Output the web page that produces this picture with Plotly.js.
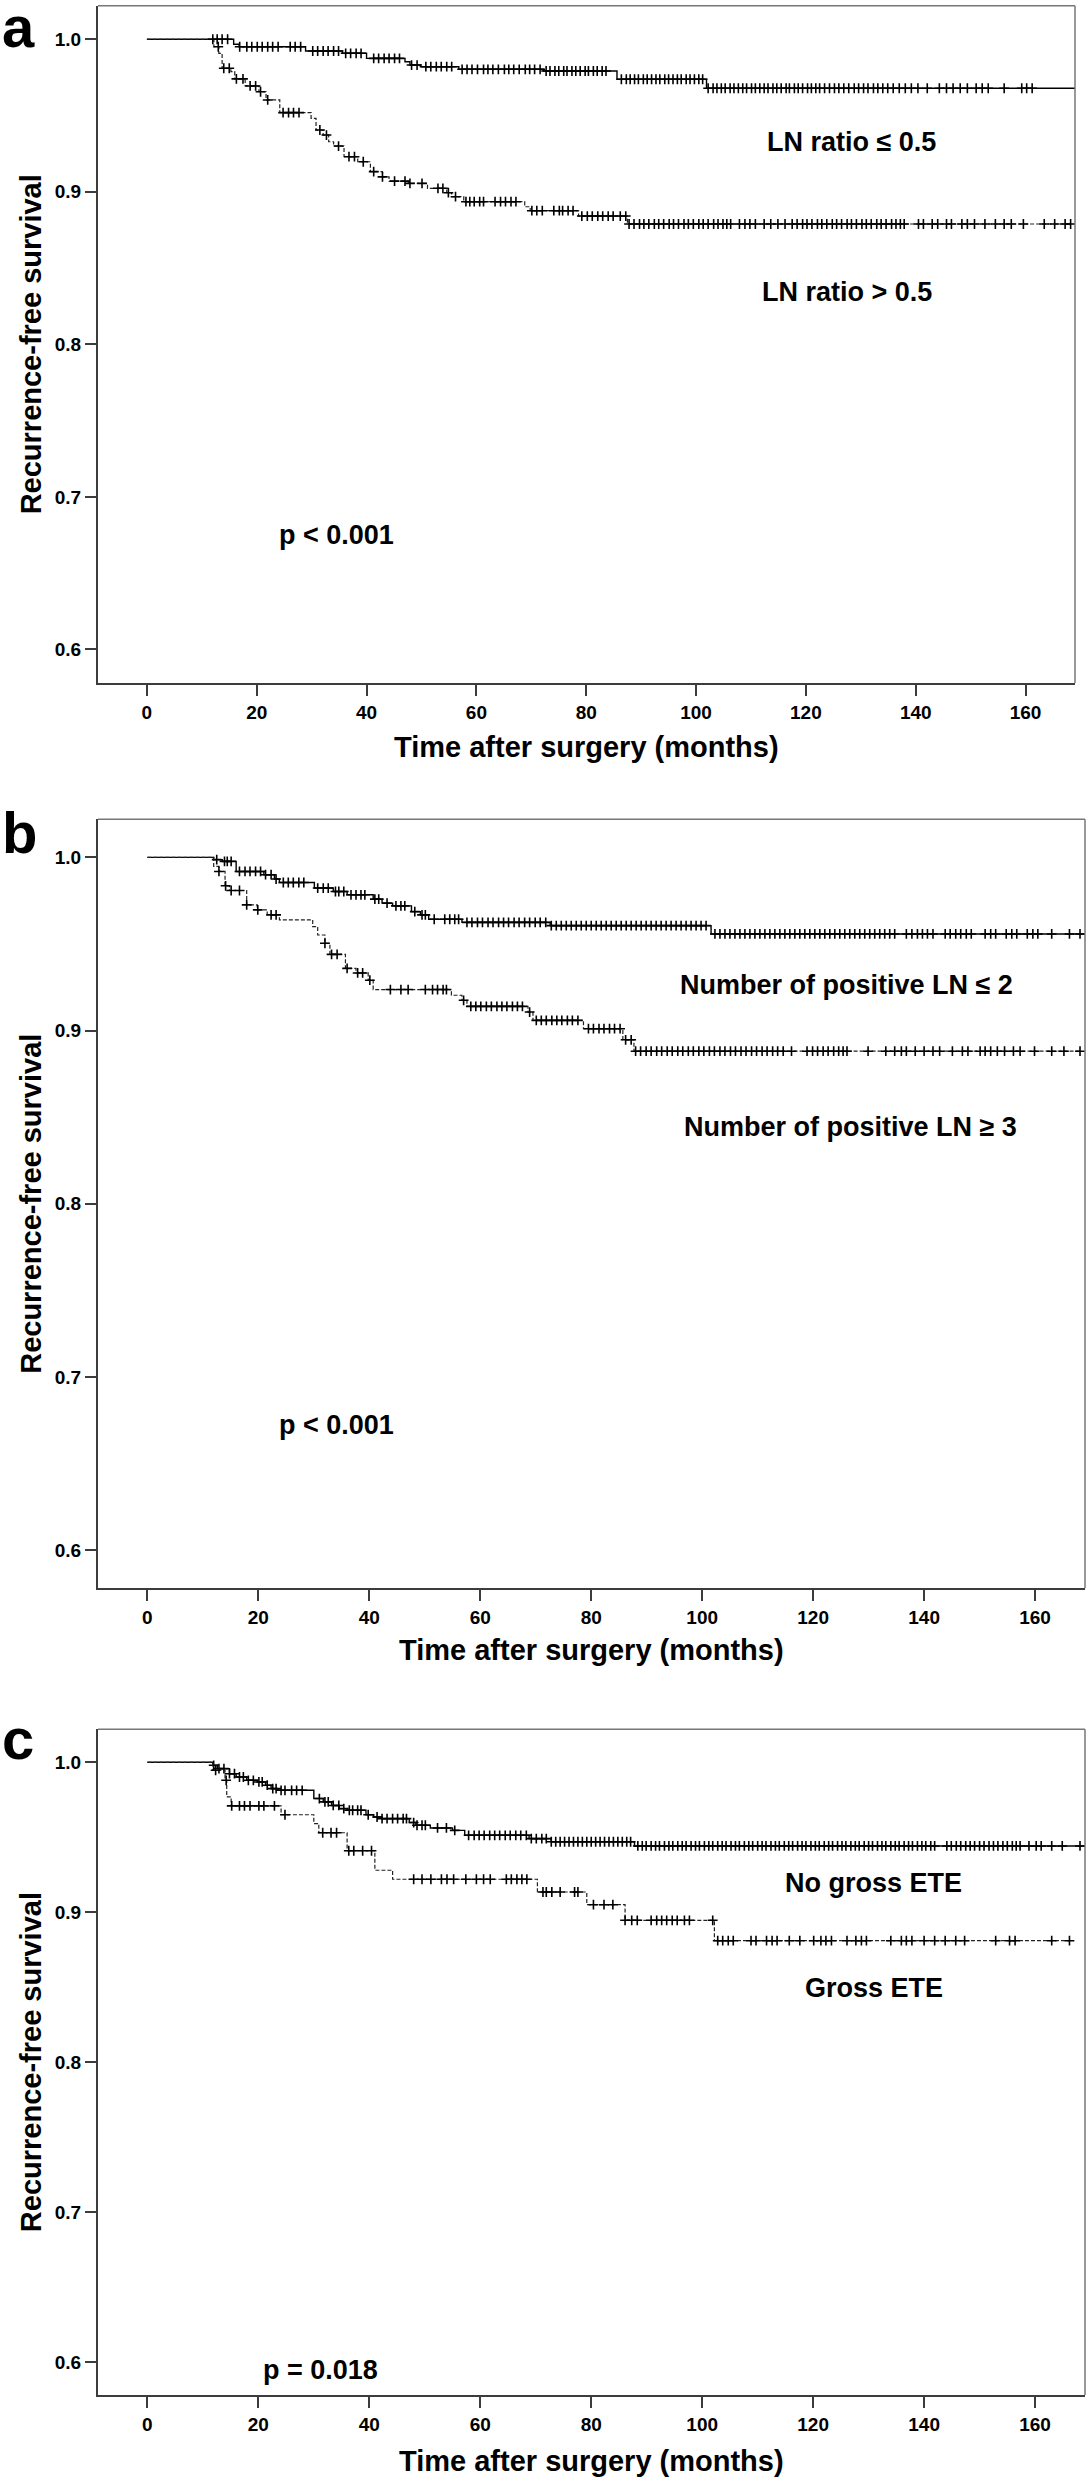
<!DOCTYPE html>
<html><head><meta charset="utf-8">
<script src="https://cdn.plot.ly/plotly-3.0.1.min.js"></script>
<style>html,body{margin:0;padding:0;background:#fff}#chart{width:1089px;height:2481px}</style>
</head><body><div id="chart"></div>
<script>
// ---------- Panel a : LN ratio ----------
const ratioLowTime = [0,15.8,16.8,28.9,35.6,40.0,47.0,47.9,49.8,56.8,72.2,85.6,101.9,169];
const ratioLowSurv = [1,0.9967,0.9951,0.9923,0.9908,0.9875,0.9853,0.9831,0.982,0.9803,0.9792,0.9738,0.9679,0.9679];
const ratioLowCens = [12.8,13.7,14.7,16.9,18.2,19.1,20.1,21.0,22.0,22.9,23.9,26.1,27.0,28.0,30.2,31.1,32.1,33.0,34.0,34.9,36.2,37.1,38.1,39.0,41.3,42.2,43.2,44.1,45.1,46.0,48.2,49.2,50.8,51.7,52.7,53.6,54.6,55.5,57.4,58.3,59.2,60.2,61.3,62.1,63.0,64.0,65.1,65.9,66.8,67.8,68.9,69.7,70.6,71.6,72.7,73.4,74.3,75.0,75.9,76.5,77.4,78.1,78.9,79.8,80.4,81.3,82.0,82.9,83.6,86.4,87.3,88.0,88.8,89.5,90.4,91.1,91.9,92.7,93.4,94.3,95.0,95.8,96.6,97.3,98.2,98.9,99.7,100.5,101.2,102.2,103.1,103.8,104.6,105.3,106.2,106.9,107.7,108.5,109.2,110.1,110.8,111.6,112.4,113.1,114.0,114.7,115.5,116.4,117.0,117.9,118.6,119.4,120.3,121.0,121.8,122.5,123.4,124.3,125.2,126.0,126.9,127.8,128.8,129.6,130.5,131.3,132.3,133.1,134.0,134.9,135.9,137.0,138.1,139.2,140.4,142.1,144.3,145.6,146.8,148.1,149.4,151.0,152.1,153.2,156.1,159.3,160.2,161.2];
const ratioHighTime = [0,12.2,13.1,13.7,15.3,16.0,17.9,20.4,21.7,24.2,29.9,30.8,32.1,33.1,34.0,35.9,38.4,40.7,42.9,44.1,47.6,51.1,54.6,55.5,57.7,68.8,69.8,78.6,87.5,168.2];
const ratioHighSurv = [1,0.9951,0.9908,0.981,0.9788,0.974,0.9694,0.9656,0.9602,0.9519,0.9482,0.9405,0.9372,0.9328,0.930,0.923,0.9197,0.9132,0.9098,0.907,0.9055,0.9023,0.8994,0.8968,0.8935,0.8902,0.8876,0.8841,0.8789,0.8789];
const ratioHighCens = [12.0,13.0,14.0,15.0,16.3,17.5,18.8,19.8,20.7,22.0,24.8,25.8,26.7,27.7,31.5,32.7,34.9,36.8,37.8,39.4,41.3,42.9,45.1,47.0,47.9,50.1,53.0,53.9,54.9,56.2,58.1,58.8,59.6,60.6,61.3,63.4,64.4,65.3,66.3,67.2,70.1,71.0,72.0,74.1,75.1,75.7,76.7,77.6,79.2,80.2,81.1,82.1,83.0,84.0,84.9,86.2,87.2,87.8,88.7,89.7,90.5,91.4,92.4,93.2,94.1,95.1,95.9,96.8,97.8,98.6,99.5,100.5,101.3,102.2,103.2,104.0,104.9,105.6,106.3,107.9,108.9,109.8,110.8,112.4,113.6,114.9,116.2,117.5,118.4,119.4,120.2,121.1,122.1,122.9,123.8,124.8,125.6,126.5,127.5,128.3,129.2,130.2,131.0,131.9,132.9,133.7,134.6,135.6,136.4,137.2,137.9,140.5,141.4,143.0,144.0,145.6,146.5,148.4,149.4,150.7,152.6,154.5,156.1,157.4,159.6,163.4,165.3,167.2,168.2];

// ---------- Panel b : number of positive LN ----------
const fewLNTime = [0,11.95,13.5,16.0,21.0,22.9,23.8,30.1,33.5,36.0,40.7,42.3,44.2,47.6,49.2,50.7,56.7,72.6,101.6,169];
const fewLNSurv = [1,0.9987,0.9977,0.9919,0.99,0.9875,0.9855,0.9823,0.9803,0.9784,0.9759,0.9736,0.972,0.9687,0.9668,0.9643,0.9625,0.9606,0.9558,0.9558];
const fewLNCens = [12.5,13.9,14.4,15.1,16.6,17.6,18.5,19.5,20.4,21.3,22.3,23.2,24.5,25.4,26.3,27.3,28.2,30.7,31.7,32.6,33.9,34.5,35.4,36.7,37.6,38.5,39.2,41.0,41.7,43.2,44.8,45.7,46.4,48.2,49.5,50.1,51.7,53.6,54.5,55.4,56.1,57.6,58.5,59.5,60.4,61.4,62.3,63.3,64.2,65.1,66.1,67.0,68.0,68.9,69.9,70.8,71.8,72.8,73.7,74.6,75.5,76.4,77.3,78.2,79.1,80.0,80.9,81.8,82.7,83.6,84.5,85.4,86.3,87.2,88.1,89.0,89.9,90.8,91.7,92.6,93.5,94.4,95.3,96.2,97.1,98.0,98.9,99.8,100.7,102.3,103.2,104.1,105.0,105.9,106.8,107.7,108.6,109.5,110.4,111.3,112.2,113.1,114.0,114.9,115.8,116.7,117.6,118.5,119.4,120.3,121.2,122.1,123.0,123.9,124.8,125.7,126.6,127.5,128.4,129.3,130.2,131.1,132.0,132.9,133.8,134.7,136.8,137.8,138.8,139.7,140.6,141.6,143.8,144.7,145.7,146.6,147.6,148.5,151.0,152.0,152.9,154.8,155.8,156.7,158.6,159.6,160.5,163.0,166.2,168.1];
const manyLNTime = [0,11.95,12.9,14.0,14.8,17.9,19.8,21.6,23.8,29.8,30.7,32.0,32.9,35.7,37.6,39.8,40.7,54.8,56.7,57.6,68.6,69.5,78.6,85.7,87.7,168.1];
const manyLNSurv = [1,0.9948,0.9919,0.9836,0.9809,0.9726,0.9697,0.9668,0.9639,0.96,0.9552,0.9504,0.944,0.9359,0.9333,0.9291,0.9237,0.9204,0.9175,0.914,0.9107,0.9059,0.9011,0.8947,0.8881,0.8881];
const manyLNCens = [12.9,14.1,15.1,16.6,17.9,19.9,22.3,23.2,32.0,33.2,34.2,36.0,37.9,38.8,40.1,43.8,45.7,47.0,50.1,51.4,52.3,53.3,53.9,57.0,58.3,59.2,60.1,61.1,62.0,63.0,63.9,64.8,65.8,66.7,67.6,68.9,70.1,71.0,71.9,72.9,73.8,74.7,75.7,76.6,77.6,79.5,80.4,81.4,82.3,83.3,84.2,85.2,86.2,87.2,88.0,88.9,89.9,90.8,91.8,92.7,93.7,94.6,95.6,96.5,97.5,98.4,99.4,100.3,101.3,102.2,103.2,104.1,105.1,106.0,107.0,107.9,108.9,109.8,110.8,111.7,112.7,113.6,114.6,116.1,118.9,119.9,120.8,121.8,122.7,123.7,124.6,125.4,126.1,129.9,133.1,134.7,135.9,136.8,138.4,140.0,141.6,142.8,145.1,146.9,147.9,150.1,151.0,152.0,153.2,154.5,156.1,157.3,159.9,163.0,165.2,168.1];

// ---------- Panel c : gross ETE ----------
const noETETime = [0,11.8,12.6,14.8,16.0,17.9,19.8,21.3,22.3,23.5,30.0,31.7,33.2,34.6,36.0,39.4,40.8,42.3,47.2,48.4,51.0,55.0,57.2,68.8,72.8,87.8,169];
const noETESurv = [1,0.998,0.9958,0.9924,0.9902,0.988,0.9869,0.9847,0.9824,0.9813,0.9758,0.9736,0.9712,0.9691,0.968,0.965,0.9635,0.9624,0.9598,0.958,0.9562,0.9546,0.9513,0.9491,0.947,0.9442,0.9442];
const noETECens = [11.95,12.9,13.8,14.8,15.7,16.6,17.3,18.2,19.1,20.1,20.7,21.6,22.6,23.2,24.1,24.8,26.0,26.9,27.9,31.0,32.0,32.6,33.5,34.5,35.4,36.4,37.0,37.9,38.5,39.8,41.4,42.3,43.2,44.2,45.1,46.1,46.7,48.0,48.6,49.5,50.1,52.3,53.9,55.4,57.9,58.9,59.8,60.7,61.7,62.6,63.5,64.5,65.4,66.4,67.3,68.3,69.2,70.1,71.1,71.9,72.8,73.6,74.4,75.2,76.0,76.8,77.6,78.4,79.2,80.0,80.8,81.6,82.4,83.2,84.0,84.8,85.6,86.4,87.1,88.4,89.2,89.9,90.8,91.6,92.3,93.2,94.0,94.7,95.6,96.4,97.1,98.0,98.8,99.5,100.4,101.2,101.9,102.8,103.6,104.3,105.2,106.0,106.7,107.6,108.4,109.1,110.0,110.8,111.5,112.4,113.2,113.9,114.8,115.6,116.3,117.2,118.0,118.7,119.6,120.4,121.1,122.0,122.8,123.5,124.4,125.2,125.9,126.8,127.6,128.3,129.2,130.0,130.7,131.6,132.4,133.1,134.0,134.8,135.5,136.4,137.2,137.9,138.8,139.6,140.3,141.2,141.9,144.1,144.9,145.8,146.6,147.5,148.3,149.1,150.0,150.8,151.7,152.5,153.3,154.2,155.0,155.9,156.6,157.3,158.9,160.2,161.1,163.0,164.9,168.1];
const grossETETime = [0,11.8,14.0,14.3,15.1,24.1,30.0,30.9,36.0,41.0,44.2,70.3,79.2,86.1,102.2,166.2];
const grossETESurv = [1,0.9947,0.988,0.9769,0.9709,0.965,0.9591,0.953,0.941,0.928,0.922,0.9135,0.905,0.8946,0.881,0.881];
const grossETECens = [12.3,14.2,15.2,16.6,17.5,18.5,20.1,21.0,22.9,24.8,31.6,33.1,34.1,36.3,37.2,38.8,40.4,48.0,49.5,51.1,53.0,54.0,55.2,57.4,59.3,60.6,61.8,64.7,65.6,66.6,67.5,68.4,71.3,71.9,72.9,74.4,77.0,77.6,80.4,82.3,83.9,86.1,87.3,88.3,90.8,91.8,92.7,93.6,94.6,95.5,96.8,97.7,101.9,102.8,103.7,104.7,105.6,108.8,109.7,111.6,112.6,113.5,115.7,117.6,120.1,121.4,122.3,123.3,126.1,127.7,128.7,129.6,134.0,135.9,136.8,137.8,140.0,141.9,143.8,145.7,147.3,152.9,155.4,156.4,163.0,166.2];

// ---------- text ----------
const panelLetters = ['a','b','c'];
const groupLabels = [['LN ratio ≤ 0.5','LN ratio > 0.5'],['Number of positive LN ≤ 2','Number of positive LN ≥ 3'],['No gross ETE','Gross ETE']];
const pValues = ['p < 0.001','p < 0.001','p = 0.018'];
const xTitle = 'Time after surgery (months)';
const yTitle = 'Recurrence-free survival';
const xTicks = [0,20,40,60,80,100,120,140,160];
const yTicks = [0.6,0.7,0.8,0.9,1.0];

// ---------- helpers ----------
function survAt(ts, ss, c){ let v = ss[0]; for(let i=0;i<ts.length;i++){ if(ts[i] <= c) v = ss[i]; else break; } return v; }
const W = 1089, H = 2481;
const px = x => x / W, py = y => 1 - y / H;

const AX = '#3c3c3c';
const TICKFONT = {family:'"Liberation Sans Narrow","Arial Narrow","Liberation Sans",Arial,sans-serif', size:19, color:'#000', weight:'bold'};
const TXT = '"Liberation Sans",Arial,sans-serif';

// geometry in pixels (left, right, top, bottom) for each panel
const boxes = [[98,1075,5.7,683],[98,1085,819.3,1588.3],[98,1085,1729.3,2395]];
const xTitleY = [747,1650,2461];
const letterY = [27,832,1738];

const curves = [
  [[ratioLowTime,ratioLowSurv,ratioLowCens],[ratioHighTime,ratioHighSurv,ratioHighCens]],
  [[fewLNTime,fewLNSurv,fewLNCens],[manyLNTime,manyLNSurv,manyLNCens]],
  [[noETETime,noETESurv,noETECens],[grossETETime,grossETESurv,grossETECens]]
];

const data = [];
const layout = {width:W, height:H, margin:{l:0,r:0,t:0,b:0}, paper_bgcolor:'#fff', plot_bgcolor:'#fff', showlegend:false, shapes:[], annotations:[]};

curves.forEach((pair, k) => {
  const xa = k===0 ? 'x' : 'x'+(k+1), ya = k===0 ? 'y' : 'y'+(k+1);
  const xk = k===0 ? 'xaxis' : 'xaxis'+(k+1), yk = k===0 ? 'yaxis' : 'yaxis'+(k+1);
  const [l,r,t,b] = boxes[k];
  pair.forEach((c, j) => {
    const [ts, ss, cs] = c;
    data.push({type:'scatter', mode:'lines', x:ts, y:ss, xaxis:xa, yaxis:ya, hoverinfo:'skip',
      line:{shape:'hv', color: j===0 ? '#000' : '#222', width: j===0 ? 1.4 : 1.2, dash: j===0 ? 'solid' : '4px,2px'}});
    data.push({type:'scatter', mode:'markers', x:cs, y:cs.map(v => survAt(ts, ss, v)), xaxis:xa, yaxis:ya, hoverinfo:'skip',
      marker:{symbol:'cross-thin', size:7, line:{color:'#000', width:1.6}, color:'#000'}});
  });
  layout[xk] = {domain:[px(l), px(r)], range:[-8.9,169], anchor:ya, tickvals:xTicks, ticktext:xTicks.map(String),
    ticks:'outside', ticklen:11, tickwidth:2, tickcolor:AX, showline:true, linecolor:AX, linewidth:2,
    showgrid:false, zeroline:false, tickfont:TICKFONT, fixedrange:true};
  layout[yk] = {domain:[py(b), py(t)], range:[0.578,1.022], anchor:xa, tickvals:yTicks, ticktext:yTicks.map(v=>v.toFixed(1)),
    ticks:'outside', ticklen:11, tickwidth:2, tickcolor:AX, showline:true, linecolor:AX, linewidth:2,
    showgrid:false, zeroline:false, tickfont:TICKFONT, fixedrange:true};
  // top and right frame
  layout.shapes.push({type:'line', xref:xa+' domain', yref:ya+' domain', x0:0, x1:1, y0:1, y1:1, line:{color:'#777', width:1.5}});
  layout.shapes.push({type:'line', xref:xa+' domain', yref:ya+' domain', x0:1, x1:1, y0:0, y1:1, line:{color:'#777', width:1.5}});
  // axis titles
  layout.annotations.push({xref:'paper', yref:'paper', x:px((l+r)/2), y:py(xTitleY[k]), xanchor:'center', yanchor:'middle', showarrow:false,
    text:'<b>'+xTitle+'</b>', font:{family:TXT, size:29, color:'#000'}});
  layout.annotations.push({xref:'paper', yref:'paper', x:px(31), y:py((t+b)/2), xanchor:'center', yanchor:'middle', showarrow:false, textangle:-90,
    text:'<b>'+yTitle+'</b>', font:{family:TXT, size:29, color:'#000'}});
  // panel letter
  layout.annotations.push({xref:'paper', yref:'paper', x:px(0), y:py(letterY[k]), xanchor:'left', yanchor:'middle', showarrow:false,
    text:'<b>'+panelLetters[k]+'</b>', font:{family:TXT, size:58, color:'#000'}});
});

// group labels and p values
const labelPos = [[[851,141.7],[847,291.7]],[[846,985],[850,1127]],[[873.5,1883.3],[873.5,1988.3]]];
const pPos = [[336,535],[336,1425],[320,2370]];
groupLabels.forEach((g,k) => {
  g.forEach((s,j) => layout.annotations.push({xref:'paper', yref:'paper', x:px(labelPos[k][j][0]), y:py(labelPos[k][j][1]), xanchor:'center', yanchor:'middle', showarrow:false,
    text:'<b>'+s+'</b>', font:{family:TXT, size:27, color:'#000'}}));
  layout.annotations.push({xref:'paper', yref:'paper', x:px(pPos[k][0]), y:py(pPos[k][1]), xanchor:'center', yanchor:'middle', showarrow:false,
    text:'<b>'+pValues[k]+'</b>', font:{family:TXT, size:27, color:'#000'}});
});

Plotly.newPlot('chart', data, layout, {staticPlot:true, displayModeBar:false});
</script></body></html>
